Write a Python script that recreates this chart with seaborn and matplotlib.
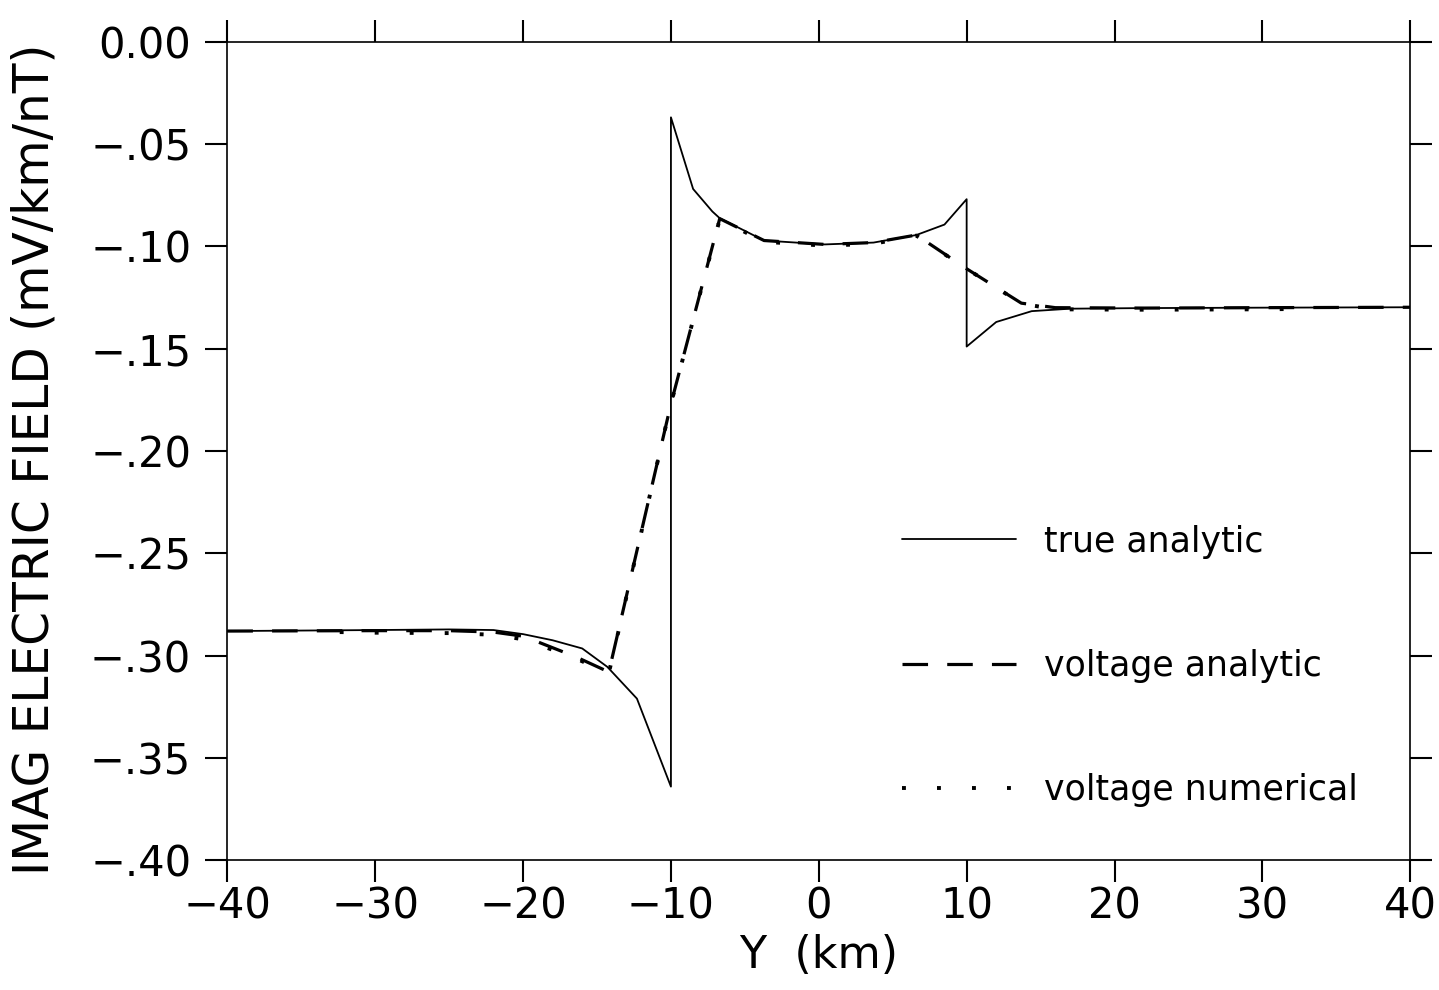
import numpy as np
import pandas as pd
import matplotlib
matplotlib.use("Agg")
import matplotlib.pyplot as plt
import seaborn as sns

# values
y_true = [-40, -30, -25, -22, -20, -18, -16, -14.3, -12.3, -10, -10, -8.5, -7.2,
          -6.7, -3.7, 0.4, 3.7, 6.6, 8.5, 10, 10, 12, 14.4, 17, 22, 30, 40]
e_true = [-0.288, -0.2875, -0.2872, -0.2875, -0.2895, -0.2925, -0.2965, -0.3055,
          -0.321, -0.364, -0.037, -0.072, -0.083, -0.0863, -0.0972, -0.0991,
          -0.0982, -0.0945, -0.0894, -0.077, -0.149, -0.137, -0.1317, -0.1305,
          -0.1302, -0.1300, -0.1298]

y_volt = [-40, -30, -25, -22, -20, -19, -17.7, -16.4, -14.2, -10, -6.7, -3.7,
          0.4, 3.7, 6.6, 10, 13.7, 16, 22, 30, 40]
e_volt = [-0.288, -0.2878, -0.2878, -0.2885, -0.2905, -0.2933, -0.2970, -0.3007,
          -0.308, -0.177, -0.0865, -0.0972, -0.0991, -0.0982, -0.0945, -0.111,
          -0.1278, -0.1300, -0.1302, -0.1300, -0.1298]

y_num = [-32.4, -30, -25, -22, -20, -19, -17.7, -16.4, -14.2, -10, -6.7, -3.7,
         0.4, 3.7, 6.6, 10, 13.7, 16, 22, 30, 32.9]
e_num = [-0.2885, -0.2888, -0.2890, -0.2898, -0.2920, -0.2945, -0.2980, -0.3015,
         -0.3085, -0.177, -0.0868, -0.0978, -0.0997, -0.0988, -0.0948, -0.111,
         -0.1280, -0.1308, -0.1310, -0.1308, -0.1306]

xticks = [-40, -30, -20, -10, 0, 10, 20, 30, 40]
xtick_labels = ["\u221240", "\u221230", "\u221220", "\u221210", "0", "10", "20", "30", "40"]
yticks = [0.00, -0.05, -0.10, -0.15, -0.20, -0.25, -0.30, -0.35, -0.40]
ytick_labels = ["0.00", "\u2212.05", "\u2212.10", "\u2212.15", "\u2212.20",
                "\u2212.25", "\u2212.30", "\u2212.35", "\u2212.40"]

sns.set_theme(style="ticks")
plt.rcParams["font.family"] = ["DejaVu Sans"]
plt.rcParams.update({"text.color": "black", "axes.labelcolor": "black",
                     "xtick.color": "black", "ytick.color": "black"})

fig = plt.figure(figsize=(14.39, 9.9), dpi=100)
ax = fig.add_axes([0.158, 0.131, 0.822, 0.827])

sns.lineplot(x=y_true, y=e_true, ax=ax, color="black", linewidth=1.3,
             sort=False, estimator=None, label="true analytic")
sns.lineplot(x=y_volt, y=e_volt, ax=ax, color="black", linewidth=2.3,
             linestyle=(0, (8, 6)), sort=False, estimator=None,
             label="voltage analytic")
sns.lineplot(x=y_num, y=e_num, ax=ax, color="black", linewidth=2.8,
             linestyle=(0, (1, 8)), sort=False, estimator=None,
             label="voltage numerical")

ax.set_xlim(-40, 40)
ax.set_ylim(-0.40, 0.00)
ax.set_xticks(xticks)
ax.set_xticklabels(xtick_labels, fontsize=30)
ax.set_yticks(yticks)
ax.set_yticklabels(ytick_labels, fontsize=30)
ax.tick_params(which="both", direction="out", top=True, right=True,
               labeltop=False, labelright=False, length=16, width=1.5,
               color="black")
ax.tick_params(axis="x", pad=2)
ax.tick_params(axis="y", pad=10)
for s in ax.spines.values():
    s.set_visible(True)
    s.set_linewidth(1.2)
    s.set_color("black")

ax.set_xlabel("Y  (km)", fontsize=32)
ax.xaxis.set_label_coords(0.5, -0.09)
ax.set_ylabel("IMAG ELECTRIC FIELD (mV/km/nT)", fontsize=35)
ax.yaxis.set_label_coords(-0.143, 0.49)

leg = ax.legend(loc="upper left", bbox_to_anchor=(0.57, 0.41), frameon=False,
                fontsize=25, handlelength=3.3, handletextpad=0.8,
                labelspacing=2.6, borderpad=0, borderaxespad=0)

fig.savefig("out.png", dpi=100)
